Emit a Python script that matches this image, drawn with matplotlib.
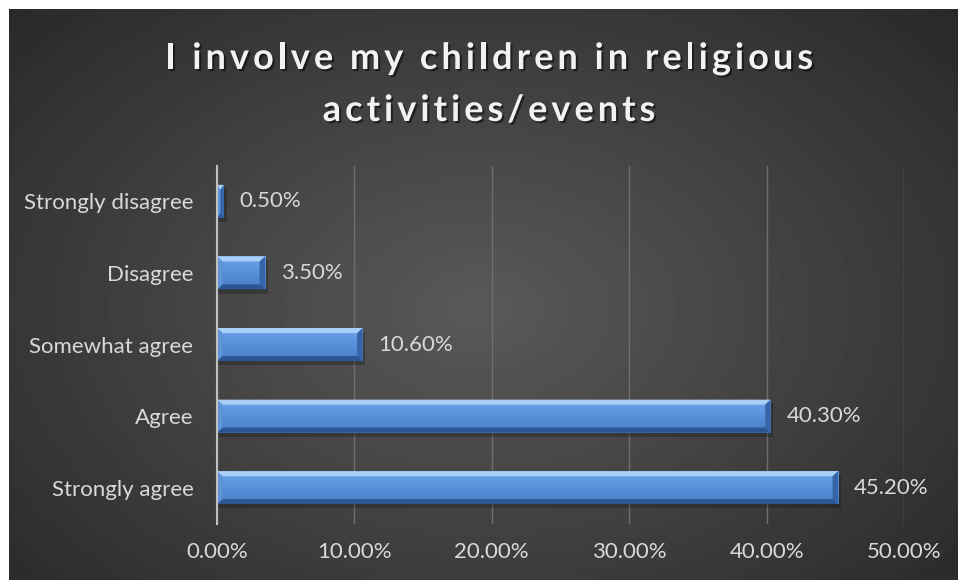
"""Horizontal bar chart: involvement of children in religious activities."""

import numpy as np
from matplotlib.figure import Figure
from matplotlib.backends.backend_agg import FigureCanvasAgg
from matplotlib.font_manager import FontProperties
from matplotlib.patches import Polygon
import matplotlib.patheffects as pe

categories = ["Strongly disagree", "Disagree", "Somewhat agree", "Agree", "Strongly agree"]
percents = [0.5, 3.5, 10.6, 40.3, 45.2]
xticks = [0, 10, 20, 30, 40, 50]
title_lines = ["I involve my children in religious", "activities/events"]

FONT = "Lato"
TEXT = "#d9d9d9"
W, H = 958, 580

fig = Figure(figsize=(W / 100, H / 100), dpi=100)
canvas = FigureCanvasAgg(fig)
renderer = canvas.get_renderer()

# dark radial background, starting a few pixels in from the top-left
bg = fig.add_axes([9 / W, 0, 1 - 9 / W, 1 - 9 / H])
yy, xx = np.mgrid[0:571, 0:949]
r = np.hypot((xx - 470) / 620, (yy - 300) / 420)
shade = np.clip(0.35 - 0.18 * r, 0.16, 0.35)
bg.imshow(shade, cmap="gray", vmin=0, vmax=1, aspect="auto", interpolation="bilinear")
bg.set_axis_off()

ax = fig.add_axes([217 / W, 1 - 523.5 / H, 687 / W, 358 / H])
ax.patch.set_alpha(0)

ypos = np.arange(len(categories))
h = 0.23
dx = 0.4
dy = 0.07

for yc, v in zip(ypos, percents):
    top, bot = yc - h, yc + h
    bx = min(dx, v / 2)
    # soft drop shadow
    ax.add_patch(Polygon([(0, top + 0.05), (v + 0.2, top + 0.05), (v + 0.2, bot + 0.06), (0, bot + 0.06)],
                         closed=True, fc="black", ec="none", alpha=0.22, zorder=2))
    # face with a vertical gradient
    grad = np.linspace(0, 1, 50).reshape(-1, 1)
    c0 = np.array([0.42, 0.64, 0.92])
    c1 = np.array([0.28, 0.49, 0.78])
    img = c0 + (c1 - c0) * grad[..., None]
    ax.imshow(img, extent=[0, v, bot, top], aspect="auto", zorder=3, interpolation="bilinear")
    # bevel facets
    ax.add_patch(Polygon([(0, top), (v, top), (v - bx, top + dy), (bx, top + dy)],
                         closed=True, fc="#a9d0f7", ec="none", zorder=4))
    ax.add_patch(Polygon([(0, bot), (v, bot), (v - bx, bot - dy), (bx, bot - dy)],
                         closed=True, fc="#2c5691", ec="none", zorder=4))
    ax.add_patch(Polygon([(0, top), (bx, top + dy), (bx, bot - dy), (0, bot)],
                         closed=True, fc="#5f95d8", ec="none", zorder=4))
    ax.add_patch(Polygon([(v, top), (v - bx, top + dy), (v - bx, bot - dy), (v, bot)],
                         closed=True, fc="#3565a6", ec="none", zorder=4))
    ax.text(v + 1.15, yc, f"{v:.2f}%", va="center", ha="left", color=TEXT,
            fontsize=16, family=FONT, zorder=5)

ax.set_xlim(0, 50)
ax.set_ylim(len(categories) - 0.5, -0.5)
ax.set_xticks(xticks)
ax.set_xticklabels([f"{t:.2f}%" for t in xticks], color=TEXT, fontsize=16, family=FONT)
ax.set_yticks(ypos)
ax.set_yticklabels(categories, color=TEXT, fontsize=16, family=FONT)
ax.tick_params(axis="x", length=0, pad=13)
ax.tick_params(axis="y", length=0, pad=17)
ax.grid(True, axis="x", color="#6e6e6e", linewidth=1, zorder=1)
ax.set_axisbelow(True)
for side in ["top", "right", "bottom"]:
    ax.spines[side].set_visible(False)
ax.spines["left"].set_color("#c0c0c0")
ax.spines["left"].set_linewidth(1.5)
ax.spines["left"].set_zorder(6)

# title with extra letter spacing, placed glyph by glyph
tprop = FontProperties(family=FONT, weight="bold", size=26)
spacing = 4.0
shadow = [pe.withSimplePatchShadow(offset=(1.5, -1.5), shadow_rgbFace="black", alpha=0.5)]
for line, base in zip(title_lines, [69, 121]):
    adv = [renderer.get_text_width_height_descent(line[:i], tprop, ismath=False)[0] if i else 0.0
           for i in range(len(line) + 1)]
    total = adv[-1] + spacing * (len(line) - 1)
    x0 = 489 - total / 2
    for i, ch in enumerate(line):
        if ch == " ":
            continue
        fig.text((x0 + adv[i] + spacing * i) / W, 1 - base / H, ch, ha="left", va="baseline",
                 color="#f2f2f2", fontproperties=tprop, path_effects=shadow)

fig.savefig("out.png", facecolor="white")
